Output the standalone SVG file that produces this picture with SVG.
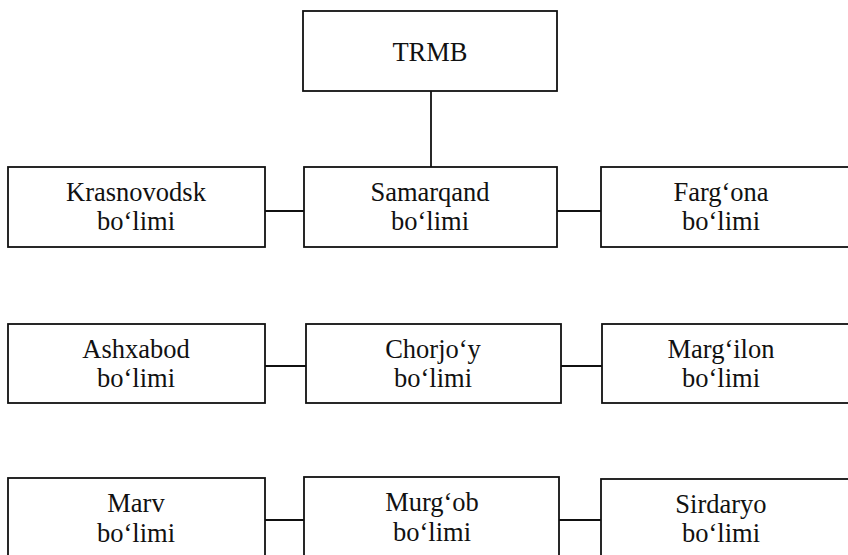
<svg xmlns="http://www.w3.org/2000/svg" width="848" height="555" viewBox="0 0 848 555">
<style>
.box{fill:#fff;stroke:#111;stroke-width:1.8}
.t{font-family:"Liberation Serif","Times New Roman",serif;font-size:26.5px;fill:#111;text-anchor:middle}
.c{stroke:#111;stroke-width:1.8;fill:none}
</style>
<rect width="848" height="555" fill="#fff"/>
<g id="connectors">
<line class="c" x1="431" y1="91" x2="431" y2="167"/>
<line class="c" x1="265" y1="211" x2="304" y2="211"/>
<line class="c" x1="557" y1="211" x2="601" y2="211"/>
<line class="c" x1="265" y1="366" x2="306" y2="366"/>
<line class="c" x1="561" y1="366" x2="602" y2="366"/>
<line class="c" x1="265" y1="520" x2="304" y2="520"/>
<line class="c" x1="559" y1="520" x2="601" y2="520"/>
</g>
<g id="trmb"><rect class="box" x="303" y="11" width="254" height="80"/><text class="t" x="430" y="61">TRMB</text></g>
<g id="krasnovodsk"><rect class="box" x="8" y="167" width="257" height="80"/><text class="t" x="136" y="201">Krasnovodsk</text><text class="t" x="136" y="230">bo‘limi</text></g>
<g id="samarqand"><rect class="box" x="304" y="167" width="253" height="80"/><text class="t" x="430" y="201">Samarqand</text><text class="t" x="430" y="230">bo‘limi</text></g>
<g id="fargona"><rect class="box" x="601" y="167" width="260" height="80"/><text class="t" x="721" y="201">Farg‘ona</text><text class="t" x="721" y="230">bo‘limi</text></g>
<g id="ashxabod"><rect class="box" x="8" y="324" width="257" height="79"/><text class="t" x="136" y="358">Ashxabod</text><text class="t" x="136" y="387">bo‘limi</text></g>
<g id="chorjoy"><rect class="box" x="306" y="324" width="255" height="79"/><text class="t" x="433" y="358">Chorjo‘y</text><text class="t" x="433" y="387">bo‘limi</text></g>
<g id="margilon"><rect class="box" x="602" y="324" width="260" height="79"/><text class="t" x="721" y="358">Marg‘ilon</text><text class="t" x="721" y="387">bo‘limi</text></g>
<g id="marv"><rect class="box" x="8" y="478" width="257" height="90"/><text class="t" x="136" y="512">Marv</text><text class="t" x="136" y="542">bo‘limi</text></g>
<g id="murgob"><rect class="box" x="304" y="477" width="255" height="90"/><text class="t" x="432" y="511">Murg‘ob</text><text class="t" x="432" y="541">bo‘limi</text></g>
<g id="sirdaryo"><rect class="box" x="601" y="479" width="260" height="90"/><text class="t" x="721" y="513">Sirdaryo</text><text class="t" x="721" y="542">bo‘limi</text></g>
</svg>
